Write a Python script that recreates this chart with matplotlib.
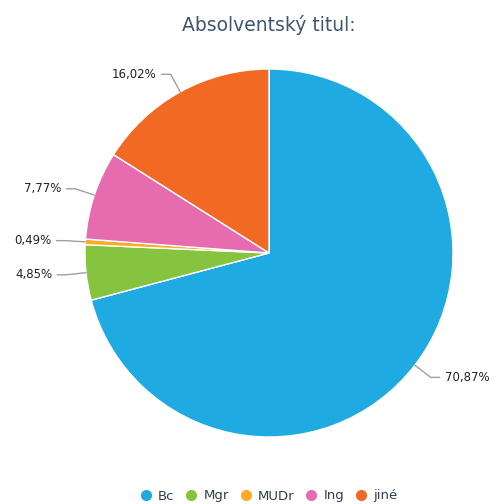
import numpy as np
import matplotlib.pyplot as plt
from matplotlib.lines import Line2D

labels = ['Bc', 'Mgr', 'MUDr', 'Ing', 'jiné']
shares = [70.87, 4.85, 0.49, 7.77, 16.02]
colors = ['#1faae1', '#86c440', '#fdaa25', '#e66caf', '#f26924']

W, H = 497, 504
cx, cy, r = 269, H - 253, 184

fig = plt.figure(figsize=(W / 100, H / 100), dpi=100)
ax = fig.add_axes([0, 0, 1, 1])

wedges, _ = ax.pie(shares, colors=colors, startangle=90, counterclock=False,
                   center=(cx, cy), radius=r,
                   wedgeprops=dict(edgecolor='white', linewidth=1))

# pie() resets the view, so pin the pixel-sized frame afterwards
ax.set_xlim(0, W)
ax.set_ylim(0, H)
ax.set_aspect('equal')
ax.axis('off')

# data labels with bent connectors, highcharts style
cum = np.cumsum([0] + shares[:-1])
for i, (s, c0) in enumerate(zip(shares, cum)):
    theta = np.deg2rad((c0 + s / 2) / 100 * 360)  # clockwise from top
    dx, dy = np.sin(theta), np.cos(theta)
    x0, y0 = cx + r * dx, cy + r * dy
    x1, y1 = cx + (r + 20) * dx, cy + (r + 20) * dy
    side = 1 if dx >= 0 else -1
    x2 = x1 + side * 9
    ax.plot([x0, x1, x2], [y0, y1, y1], color='#a0a0a0', lw=1, solid_capstyle='round')
    txt = ('%.2f' % s).replace('.', ',') + '%'
    ax.text(x2 + side * 5, y1, txt, ha='left' if side > 0 else 'right',
            va='center', fontsize=8.5, color='#222222')

fig.text(cx / W, 1 - 25 / H, 'Absolventský titul:', ha='center', va='center',
         fontsize=13.5, color='#3e576f')

handles = [Line2D([], [], marker='o', ls='', markersize=7, color=c) for c in colors]
fig.legend(handles, labels, loc='center', bbox_to_anchor=(cx / W, 1 - 496 / H),
           ncol=5, frameon=False, fontsize=9.5, handlelength=0.8, handletextpad=0.5,
           columnspacing=0.9, labelcolor='#2f3d4c', borderpad=0)

fig.savefig('out.png', dpi=100)
